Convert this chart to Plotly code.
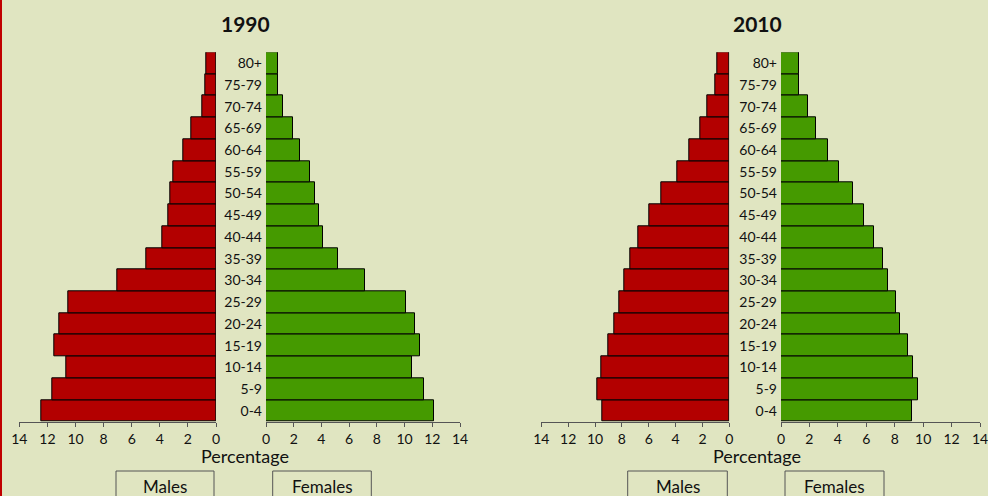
import plotly.graph_objects as go

W, H = 988, 496

ages = ["0-4", "5-9", "10-14", "15-19", "20-24", "25-29", "30-34", "35-39",
        "40-44", "45-49", "50-54", "55-59", "60-64", "65-69", "70-74", "75-79", "80+"]

males_1990 = [12.4, 11.65, 10.65, 11.5, 11.15, 10.5, 7.0, 4.98, 3.84, 3.39, 3.25, 3.06, 2.35, 1.76, 0.97, 0.78, 0.66]
females_1990 = [12.1, 11.42, 10.53, 11.13, 10.77, 10.1, 7.12, 5.19, 4.09, 3.8, 3.56, 3.17, 2.43, 1.92, 1.2, 0.84, 0.84]
males_2010 = [9.48, 9.85, 9.53, 9.01, 8.56, 8.19, 7.82, 7.39, 6.78, 5.93, 5.03, 3.87, 2.98, 2.18, 1.64, 1.04, 0.92]
females_2010 = [9.25, 9.62, 9.32, 8.9, 8.4, 8.07, 7.56, 7.2, 6.57, 5.87, 5.05, 4.08, 3.29, 2.49, 1.88, 1.29, 1.29]

years = ["1990", "2010"]
tick_vals = [0, 2, 4, 6, 8, 10, 12, 14]
x_title = "Percentage"
legend_labels = ["Males", "Females"]

RED = "#b30000"
GREEN = "#459a00"
BG = "#e0e5c1"
FONT = "Lato"

def px(x):
    return x / W

def py(y):
    return 1 - y / H

fig = go.Figure()

panels = [
    (males_1990, RED, "x", "y"),
    (females_1990, GREEN, "x2", "y2"),
    (males_2010, RED, "x3", "y3"),
    (females_2010, GREEN, "x4", "y4"),
]
for vals, col, xa, ya in panels:
    fig.add_trace(go.Bar(
        x=vals, y=ages, orientation="h", xaxis=xa, yaxis=ya,
        marker=dict(color=col, line=dict(color="black", width=1)),
        showlegend=False, hoverinfo="x+y",
    ))

x_domains = [(19.3, 216), (266, 460), (541.3, 729.3), (781, 980)]
y_dom = [py(421.7), py(52.3)]

layout = dict(
    width=W, height=H,
    margin=dict(l=0, r=0, t=0, b=0, pad=0, autoexpand=False),
    paper_bgcolor=BG, plot_bgcolor=BG,
    bargap=0,
    font=dict(family=FONT, size=14, color="#111"),
    showlegend=False,
)

for i, (a, b) in enumerate(x_domains):
    key = "xaxis" if i == 0 else f"xaxis{i+1}"
    ykey = "yaxis" if i == 0 else f"yaxis{i+1}"
    reversed_ = (i % 2 == 0)
    layout[key] = dict(
        domain=[px(a), px(b)],
        range=[14, 0] if reversed_ else [0, 14],
        anchor="y" if i == 0 else f"y{i+1}",
        tickvals=tick_vals, ticktext=[str(v) for v in tick_vals],
        showgrid=False, zeroline=False, automargin=False,
        ticklabeloverflow="allow",
        showline=True, linecolor="#555", linewidth=1,
        ticks="outside", ticklen=4, tickcolor="#555",
        tickfont=dict(family=FONT, size=14, color="#111"),
        fixedrange=True,
    )
    ydict = dict(
        domain=y_dom,
        anchor="x" if i == 0 else f"x{i+1}",
        type="category", categoryorder="array", categoryarray=ages,
        range=[-0.5, 16.5], automargin=False,
        showgrid=False, zeroline=False, showline=False,
        ticks="", fixedrange=True,
    )
    if reversed_:
        ydict["showticklabels"] = False
    else:
        ydict["showticklabels"] = True
        ydict["side"] = "left"
        ydict["ticklabelstandoff"] = 3
        ydict["tickfont"] = dict(family=FONT, size=14, color="#111")
    layout[ykey] = ydict

fig.update_layout(**layout)

centers = [245, 757]
box_ranges = [[(116, 214), (272.7, 371.3)], [(627.7, 727.3), (785, 884)]]

def label(x, y, text, size):
    fig.add_annotation(x=px(x), y=py(y), xref="paper", yref="paper",
                       xanchor="center", yanchor="middle",
                       text=text, showarrow=False,
                       font=dict(family=FONT, size=size, color="#111"))

for yr, cx, boxes in zip(years, centers, box_ranges):
    label(cx, 23, f"<b>{yr}</b>", 21)
    label(cx, 456, x_title, 18)
    for (a, b), lab in zip(boxes, legend_labels):
        fig.add_shape(type="rect", xref="paper", yref="paper",
                      x0=px(a), x1=px(b), y0=py(505), y1=py(471),
                      line=dict(color="#555", width=1), fillcolor="rgba(0,0,0,0)")
        label((a + b) / 2, 486, lab, 17)

fig.add_shape(type="line", xref="paper", yref="paper",
              x0=px(1), x1=px(1), y0=0, y1=1,
              line=dict(color="#c00000", width=2))

post = ("document.body.style.margin='0';document.body.style.padding='0';"
        "document.documentElement.style.margin='0';"
        "document.documentElement.style.background='%s';"
        "document.body.style.background='%s';" % (BG, BG))

fig.write_html("out.html", post_script=post, config={"displayModeBar": False})
